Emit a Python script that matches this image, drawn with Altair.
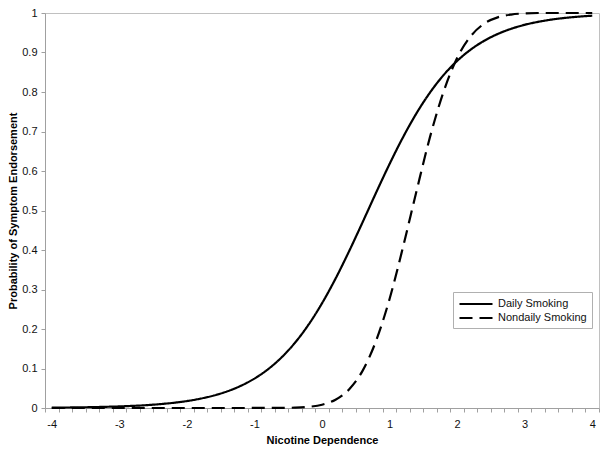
import altair as alt
import pandas as pd

# (x step 0.2 from -4 to 4)
x_values = [round(-4 + 0.2 * i, 1) for i in range(41)]
daily = [0.0009, 0.0012, 0.0016, 0.0022, 0.0030, 0.0040, 0.0054, 0.0072, 0.0098, 0.0131,
         0.0176, 0.0237, 0.0317, 0.0423, 0.0563, 0.0745, 0.0980, 0.1279, 0.1652, 0.2108,
         0.2650, 0.3274, 0.3965, 0.4700, 0.5449, 0.6177, 0.6857, 0.7465, 0.7990, 0.8429,
         0.8787, 0.9072, 0.9296, 0.9468, 0.9600, 0.9701, 0.9777, 0.9834, 0.9876, 0.9908,
         0.9932]
nondaily = [0.0, 0.0, 0.0, 0.0, 0.0, 0.0, 0.0, 0.0, 0.0, 0.0,
            0.0, 0.0, 0.0, 0.0, 0.0, 0.0001, 0.0001, 0.0003, 0.0009, 0.0029,
            0.0083, 0.021, 0.047, 0.094, 0.170, 0.276, 0.408, 0.550, 0.687, 0.801,
            0.886, 0.941, 0.973, 0.989, 0.996, 0.999, 1.0, 1.0, 1.0, 1.0,
            1.0]
series_names = ["Daily Smoking", "Nondaily Smoking"]

# axis tick positions (between categories), x labels and y ticks
x_ticks = [round(-4.1 + 0.2 * i, 1) for i in range(42)]
x_labels = [-4, -3, -2, -1, 0, 1, 2, 3, 4]
y_ticks = [round(0.1 * i, 1) for i in range(11)]

rows = []
for xv, d, n in zip(x_values, daily, nondaily):
    rows.append({"x": xv, "p": d, "series": series_names[0]})
    rows.append({"x": xv, "p": n, "series": series_names[1]})
df = pd.DataFrame(rows)

W, H = 554, 395
font = "Liberation Sans"
xscale = alt.Scale(domain=[-4.1, 4.1], nice=False, zero=False)
yscale = alt.Scale(domain=[0, 1], nice=False)

yaxis = alt.Axis(
    title="Probability of Symptom Endorsement",
    values=y_ticks,
    format=".1~f",
    tickSize=4,
    labelPadding=4,
    titlePadding=3,
    grid=False,
)

lines = alt.Chart(df).mark_line(strokeWidth=2.2, interpolate="monotone", color="#000000").encode(
    x=alt.X("x:Q", scale=xscale,
            axis=alt.Axis(
                title="Nicotine Dependence",
                values=x_labels,
                labelExpr="'' + datum.value",
                tickSize=4,
                tickOpacity=0,
                domain=False,
                labelPadding=6,
                titlePadding=5,
                labelFlush=False,
                labelOverlap=False,
                grid=False,
                orient="bottom",
            )),
    y=alt.Y("p:Q", scale=yscale, axis=yaxis),
    strokeDash=alt.StrokeDash(
        "series:N",
        scale=alt.Scale(domain=series_names, range=[[1, 0], [13, 7]]),
        legend=alt.Legend(
            title=None,
            orient="none",
            legendX=408,
            legendY=279,
            symbolType="M-1,0H5",
            symbolSize=121,
            symbolStrokeWidth=2.2,
            symbolStrokeColor="#000000",
            strokeColor="#b0b0b0",
            padding=5,
            labelFontSize=11,
            labelFont=font,
            labelColor="#111111",
            rowPadding=2,
            labelOffset=26,
        )),
)

tick_layer = alt.Chart(df).mark_point(opacity=0).encode(
    x=alt.X("x:Q", scale=xscale,
            axis=alt.Axis(
                title=None,
                values=x_ticks,
                labels=False,
                tickSize=4,
                grid=False,
                orient="bottom",
            )),
    y=alt.Y("p:Q", scale=yscale, axis=yaxis),
)

chart = alt.layer(lines, tick_layer).resolve_axis(x="independent").properties(
    width=W,
    height=H,
    autosize=alt.AutoSizeParams(type="none"),
    padding={"left": 37, "top": 5, "right": 2, "bottom": 39},
).configure_view(
    stroke="#c0c0c0",
    strokeWidth=1,
).configure_axis(
    labelFont=font,
    titleFont=font,
    labelFontSize=11,
    titleFontSize=11,
    titleFontWeight="bold",
    labelColor="#111111",
    titleColor="#000000",
    domainColor="#a0a0a0",
    tickColor="#a0a0a0",
)

chart.save("out.html", embed_options={"renderer": "svg", "actions": False})
